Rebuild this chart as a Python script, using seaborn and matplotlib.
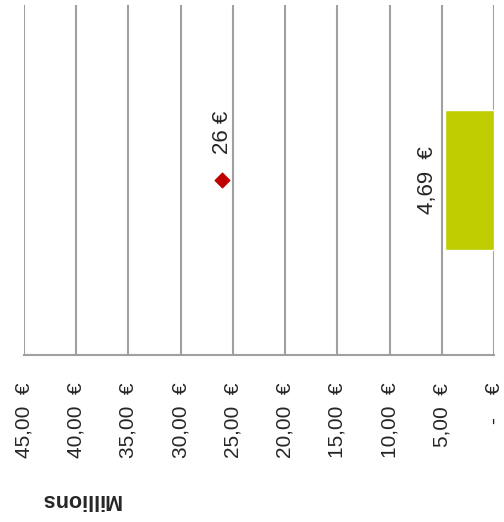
import matplotlib
matplotlib.use("Agg")
import matplotlib.pyplot as plt
import seaborn as sns
import pandas as pd

# données du graphique (en millions d'euros)
categories = [""]
bar_values = [4.69]
marker_values = [26.0]
tick_values = [0, 5, 10, 15, 20, 25, 30, 35, 40, 45]
tick_labels = ["-    €", "5,00  €", "10,00  €", "15,00  €", "20,00  €",
               "25,00  €", "30,00  €", "35,00  €", "40,00  €", "45,00  €"]
bar_label = "4,69  €"
marker_label = "26 €"

sns.set_style("white")
plt.rcParams['font.family'] = ['Liberation Sans', 'DejaVu Sans']

df = pd.DataFrame({"cat": categories, "val": bar_values, "pt": marker_values})

fig = plt.figure(figsize=(5.04, 5.22), dpi=100)
ax = fig.add_axes([24/504, (522-355)/522, 470/504, 350/522])

sns.barplot(data=df, x="val", y="cat", orient="h", color="#BFCC00",
            width=0.4, saturation=1, ax=ax, zorder=3)
ax.scatter(df["pt"], [0], marker="D", s=55, color="#C00000", zorder=4)

ax.set_xlim(45, 0)
ax.set_ylim(0.5, -0.5)
ax.set_xticks(tick_values)
ax.set_xticklabels(tick_labels, rotation=90, fontsize=15)
ax.tick_params(axis="x", length=6, width=1.5, color="#A0A0A0", pad=14)
ax.set_yticks([])
ax.set_xlabel("")
ax.set_ylabel("")
ax.grid(axis="x", color="#A0A0A0", linewidth=1.5, zorder=0)
for s in ["top", "left", "right"]:
    ax.spines[s].set_visible(False)
ax.spines["bottom"].set_color("#A0A0A0")
ax.spines["bottom"].set_linewidth(1.5)

ax.annotate(marker_label, (marker_values[0], 0), xytext=(0, 19),
            textcoords="offset points", rotation=90, ha="center", va="bottom",
            fontsize=16, color="#262626")
ax.annotate(bar_label, (bar_values[0], 0), xytext=(-5, 0),
            textcoords="offset points", rotation=90, ha="right", va="center",
            fontsize=16, color="#262626")

fig.text(80/504, 1 - 499/522, "Millions", rotation=180, ha="center", va="center",
         fontsize=15.5, fontweight="bold", color="#262626")

fig.savefig("out.png", dpi=100)
